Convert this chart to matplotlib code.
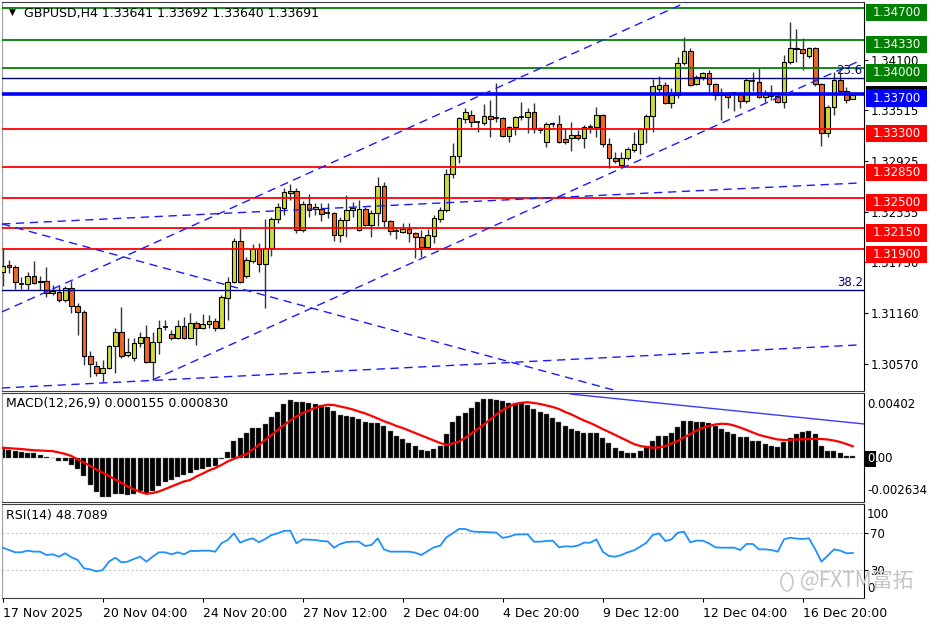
import matplotlib
matplotlib.use("Agg")
import matplotlib.pyplot as plt
import matplotlib.transforms as mtransforms
from matplotlib.patches import Rectangle, Ellipse
import numpy as np

# ---------------- data ----------------
opens = [1.31638, 1.31719, 1.31696, 1.31499, 1.31499, 1.31591, 1.31533, 1.31533, 1.31394, 1.31406,
         1.31313, 1.31452, 1.31243, 1.31174, 1.30663, 1.30547, 1.30466, 1.30524, 1.30779, 1.30942,
         1.30675, 1.30640, 1.30814, 1.30884, 1.30594, 1.30826, 1.31000, 1.30919, 1.30872, 1.31011,
         1.30872, 1.31046, 1.30988, 1.31035, 1.31069, 1.30988, 1.31336, 1.31522, 1.31997, 1.31591,
         1.31765, 1.31905, 1.31731, 1.31916, 1.32253, 1.32380, 1.32554, 1.32577, 1.32125, 1.32427,
         1.32369, 1.32369, 1.32322, 1.32322, 1.32067, 1.32241, 1.32357, 1.32125, 1.32369, 1.32183,
         1.32322, 1.32635, 1.32229, 1.32113, 1.32102, 1.32137, 1.32090, 1.32044, 1.31928, 1.32055,
         1.32253, 1.32357, 1.32775, 1.32983, 1.33413, 1.33459, 1.33378, 1.33366, 1.33447, 1.33424,
         1.33424, 1.33215, 1.33320, 1.33436, 1.33436, 1.33494, 1.33285, 1.33146, 1.33355, 1.33355,
         1.33181, 1.33192, 1.33227, 1.33192, 1.33320, 1.33320, 1.33459, 1.33123, 1.32960, 1.32879,
         1.32960, 1.33053, 1.33123, 1.33297, 1.33447, 1.33761, 1.33807, 1.33598, 1.33691, 1.34062,
         1.34201, 1.33819, 1.33900, 1.33946, 1.33819, 1.33691, 1.33714, 1.33714, 1.33714, 1.33621,
         1.33853, 1.33842, 1.33668, 1.33679, 1.33679, 1.33610, 1.34074, 1.34236, 1.34225, 1.34143,
         1.34236, 1.33819, 1.33250, 1.33552, 1.33865, 1.33737, 1.33641]
highs = [1.31916, 1.31777, 1.31719, 1.31580, 1.31638, 1.31765, 1.31591, 1.31696, 1.31487, 1.31475,
         1.31475, 1.31533, 1.31278, 1.31197, 1.30721, 1.30605, 1.30617, 1.30791, 1.30988, 1.31232,
         1.30872, 1.30872, 1.30942, 1.31023, 1.30942, 1.31081, 1.31081, 1.30965, 1.31081, 1.31116,
         1.31162, 1.31069, 1.31151, 1.31139, 1.31104, 1.31371, 1.31580, 1.32032, 1.32148, 1.31812,
         1.31963, 1.31974, 1.32253, 1.32276, 1.32438, 1.32612, 1.32659, 1.32612, 1.32461, 1.32543,
         1.32438, 1.32438, 1.32438, 1.32334, 1.32276, 1.32531, 1.32450, 1.32473, 1.32392, 1.32357,
         1.32740, 1.32682, 1.32241, 1.32160, 1.32206, 1.32206, 1.32102, 1.32125, 1.32137, 1.32299,
         1.32392, 1.32833, 1.33134, 1.33436, 1.33540, 1.33517, 1.33389, 1.33587, 1.33633, 1.33830,
         1.33436, 1.33331, 1.33447, 1.33610, 1.33540, 1.33598, 1.33320, 1.33378, 1.33378, 1.33459,
         1.33308, 1.33378, 1.33285, 1.33343, 1.33355, 1.33552, 1.33471, 1.33192, 1.33030, 1.33030,
         1.33088, 1.33262, 1.33308, 1.33471, 1.33877, 1.33911, 1.33842, 1.33772, 1.34132, 1.34364,
         1.34236, 1.33923, 1.33958, 1.33981, 1.33830, 1.33772, 1.33726, 1.33726, 1.33726, 1.33888,
         1.33958, 1.34004, 1.33749, 1.33807, 1.33726, 1.34155, 1.34538, 1.34457, 1.34352, 1.34248,
         1.34248, 1.33830, 1.33575, 1.33958, 1.33958, 1.33784, 1.33692]
lows = [1.31475, 1.31626, 1.31441, 1.31441, 1.31429, 1.31499, 1.31429, 1.31348, 1.31371, 1.31290,
        1.31290, 1.31162, 1.30907, 1.30559, 1.30420, 1.30431, 1.30362, 1.30513, 1.30466, 1.30640,
        1.30652, 1.30605, 1.30768, 1.30582, 1.30385, 1.30687, 1.30965, 1.30849, 1.30861, 1.30861,
        1.30861, 1.30791, 1.30977, 1.30988, 1.30953, 1.30977, 1.31081, 1.31510, 1.31510, 1.31568,
        1.31742, 1.31638, 1.31220, 1.31823, 1.32206, 1.32299, 1.32473, 1.32090, 1.32102, 1.32276,
        1.32299, 1.32229, 1.32264, 1.31997, 1.31986, 1.32044, 1.32276, 1.32113, 1.32171, 1.32044,
        1.32171, 1.32160, 1.32067, 1.32021, 1.32090, 1.31986, 1.31800, 1.31812, 1.31905, 1.31974,
        1.32218, 1.32334, 1.32728, 1.32902, 1.33366, 1.33320, 1.33262, 1.33343, 1.33204, 1.33378,
        1.33204, 1.33146, 1.33227, 1.33401, 1.33250, 1.33250, 1.33250, 1.33088, 1.33320, 1.33134,
        1.33123, 1.33041, 1.33169, 1.33076, 1.33250, 1.33204, 1.33088, 1.32844, 1.32902, 1.32856,
        1.32937, 1.33030, 1.33007, 1.33134, 1.33262, 1.33703, 1.33587, 1.33540, 1.33656, 1.34039,
        1.33795, 1.33807, 1.33865, 1.33726, 1.33633, 1.33401, 1.33540, 1.33505, 1.33540, 1.33598,
        1.33737, 1.33656, 1.33610, 1.33633, 1.33598, 1.33540, 1.34051, 1.34074, 1.33981, 1.34120,
        1.33795, 1.33099, 1.33204, 1.33459, 1.33714, 1.33598, 1.33640]
closes = [1.31707, 1.31696, 1.31522, 1.31499, 1.31591, 1.31510, 1.31522, 1.31394, 1.31417, 1.31313,
          1.31452, 1.31243, 1.31174, 1.30663, 1.30571, 1.30466, 1.30524, 1.30779, 1.30942, 1.30663,
          1.30710, 1.30814, 1.30884, 1.30594, 1.30826, 1.30988, 1.31000, 1.30872, 1.31011, 1.30872,
          1.31046, 1.30988, 1.31035, 1.31069, 1.30988, 1.31348, 1.31522, 1.31997, 1.31522, 1.31777,
          1.31905, 1.31731, 1.31916, 1.32253, 1.32392, 1.32566, 1.32577, 1.32125, 1.32427, 1.32357,
          1.32392, 1.32311, 1.32322, 1.32067, 1.32241, 1.32357, 1.32380, 1.32369, 1.32183, 1.32322,
          1.32635, 1.32229, 1.32113, 1.32113, 1.32137, 1.32090, 1.32044, 1.31928, 1.32067, 1.32264,
          1.32357, 1.32775, 1.32983, 1.33424, 1.33494, 1.33378, 1.33378, 1.33447, 1.33413, 1.33424,
          1.33215, 1.33320, 1.33436, 1.33436, 1.33494, 1.33297, 1.33285, 1.33355, 1.33355, 1.33146,
          1.33146, 1.33227, 1.33192, 1.33320, 1.33320, 1.33459, 1.33123, 1.32960, 1.32925, 1.32960,
          1.33065, 1.33123, 1.33297, 1.33447, 1.33795, 1.33807, 1.33598, 1.33691, 1.34062, 1.34201,
          1.33807, 1.33900, 1.33946, 1.33819, 1.33691, 1.33714, 1.33668, 1.33714, 1.33621, 1.33865,
          1.33853, 1.33668, 1.33703, 1.33679, 1.33610, 1.34074, 1.34236, 1.34225, 1.34178, 1.34236,
          1.33819, 1.33250, 1.33552, 1.33865, 1.33737, 1.33633, 1.33691]

# MACD(12,26,9), in units of 0.0001
macd_main = [6.6, 6.1, 5.0, 4.5, 3.9, 3.4, 2.7, 1.2, 0.5, -1.8,
             -1.8, -4.1, -7.0, -12.0, -17.7, -22.9, -26.3, -26.0, -24.4, -24.4,
             -24.9, -23.8, -22.2, -23.3, -22.2, -18.8, -16.1, -14.3, -12.4, -11.5,
             -9.7, -8.1, -7.0, -5.9, -4.8, -0.3, 4.3, 11.7, 14.1, 17.5,
             20.4, 20.8, 23.6, 28.0, 31.7, 36.7, 39.4, 38.5, 38.5, 37.8,
             37.3, 36.2, 34.8, 32.1, 29.2, 28.7, 28.3, 27.0, 24.6, 23.8,
             24.2, 22.4, 18.5, 15.1, 13.4, 10.7, 8.8, 6.1, 5.4, 6.6,
             8.8, 16.8, 24.6, 28.7, 31.0, 34.4, 38.5, 40.1, 40.2, 40.0,
             38.9, 37.8, 37.8, 37.8, 36.0, 33.3, 31.4, 29.9, 27.6, 24.6,
             21.9, 20.2, 18.5, 17.0, 17.0, 17.0, 14.1, 10.2, 7.3, 5.0,
             3.4, 3.4, 5.0, 8.4, 11.7, 15.1, 15.1, 17.5, 21.5, 25.8,
             25.3, 24.9, 24.9, 24.2, 21.9, 19.7, 18.1, 16.3, 14.5, 14.5,
             12.2, 11.7, 10.0, 8.8, 7.9, 11.1, 14.1, 16.8, 17.9, 19.0,
             16.3, 8.4, 5.4, 5.0, 3.9, 2.0, 1.55]
macd_signal = [7.3, 7.0, 6.7, 6.4, 6.0, 5.6, 5.4, 5.2, 5.0, 4.1,
               3.1, 1.7, -0.7, -2.7, -5.1, -7.5, -9.7, -11.9, -14.3, -16.5,
               -19.0, -21.0, -22.7, -24.0, -23.4, -22.4, -20.7, -19.0, -17.3, -15.6,
               -14.6, -12.2, -10.2, -8.1, -6.5, -4.4, -2.0, -0.3, 1.4, 3.1,
               6.1, 9.2, 12.6, 16.0, 19.4, 22.7, 25.8, 28.5, 30.9, 32.6,
               34.4, 35.6, 36.5, 36.3, 35.3, 34.4, 33.3, 31.9, 30.6, 28.9,
               27.2, 25.3, 23.8, 22.1, 20.7, 19.0, 17.3, 15.6, 13.9, 12.2,
               10.5, 9.2, 10.2, 11.5, 14.1, 17.0, 20.0, 23.1, 26.5, 29.9,
               32.9, 35.3, 37.0, 37.9, 38.2, 37.7, 37.0, 36.0, 35.0, 33.6,
               31.6, 29.9, 27.8, 25.8, 24.1, 22.1, 20.0, 18.0, 16.0, 13.9,
               11.9, 9.8, 8.5, 7.8, 7.3, 7.5, 8.5, 10.2, 11.9, 14.3,
               16.6, 19.0, 20.8, 22.1, 23.1, 23.6, 23.4, 22.4, 21.0, 19.4,
               17.7, 16.0, 14.9, 13.9, 12.9, 12.6, 12.6, 12.9, 13.0, 13.2,
               13.4, 13.2, 12.9, 12.2, 11.2, 9.8, 8.3]

rsi = [54.4, 51.9, 49.4, 49.4, 51.2, 50.1, 50.1, 46.5, 47.2, 44.7,
       48.3, 44.0, 41.1, 32.1, 31.0, 28.8, 30.3, 39.3, 43.6, 38.6,
       39.3, 42.2, 44.7, 39.3, 44.7, 49.4, 49.4, 47.2, 49.4, 47.2,
       50.8, 50.8, 51.2, 51.2, 50.1, 59.1, 62.7, 69.9, 59.8, 62.7,
       64.5, 60.2, 63.8, 68.1, 69.9, 72.5, 72.8, 59.1, 63.4, 63.1,
       62.7, 61.6, 61.2, 54.4, 58.4, 60.5, 60.9, 60.9, 56.2, 57.3,
       64.5, 52.6, 50.1, 50.1, 50.1, 50.1, 49.0, 46.5, 50.8, 54.8,
       56.6, 65.6, 69.9, 74.6, 74.6, 72.1, 71.4, 71.4, 71.0, 70.6,
       64.9, 66.3, 68.5, 68.8, 68.8, 60.9, 60.9, 61.6, 62.0, 54.8,
       55.9, 55.5, 56.6, 59.8, 59.8, 63.4, 50.1, 45.4, 44.7, 46.5,
       49.4, 51.5, 55.5, 59.8, 68.1, 69.9, 61.6, 63.4, 70.6, 71.7,
       60.2, 62.0, 62.0, 59.1, 54.8, 54.4, 54.4, 54.4, 51.9, 58.4,
       58.4, 52.6, 52.6, 51.9, 50.1, 63.4, 65.2, 64.2, 63.8, 64.5,
       52.6, 39.3, 45.8, 52.6, 51.2, 48.3, 48.7]

date_ticks = [0, 16, 32, 48, 64, 80, 96, 112, 128]
date_labels = ["17 Nov 2025", "20 Nov 04:00", "24 Nov 20:00", "27 Nov 12:00", "2 Dec 04:00",
               "4 Dec 20:00", "9 Dec 12:00", "12 Dec 04:00", "16 Dec 20:00"]
price_ticks = [1.34100, 1.33515, 1.32925, 1.32335, 1.31750, 1.31160, 1.30570]

green_levels = [1.34700, 1.34330, 1.34000]
red_levels = [1.33300, 1.32850, 1.32500, 1.32150, 1.31900]
pivot_level = 1.33700
last_price = 1.33691
fib_levels = [1.33884, 1.31428]
fib_names = ["23.6", "38.2"]

# hand drawn trendlines: (bar, price) -> (bar, price)
trend_lines = [((-0.11, 1.31174), (110.0, 1.34787)),
               ((24.0, 1.30385), (136.85, 1.34079)),
               ((-0.11, 1.30291), (136.85, 1.30790)),
               ((-0.11, 1.32194), (136.85, 1.32669)),
               ((-0.11, 1.32194), (98.3, 1.30256))]
macd_trend = ((90.8, 0.00438), (137.9, 0.00234))

# ---------------- figure ----------------
W, H = 936, 624
fig = plt.figure(figsize=(W / 100, H / 100), dpi=100)
fig.patch.set_facecolor("white")


def box(l, t, r, b):
    return [l / W, 1 - b / H, (r - l) / W, (b - t) / H]


ax = fig.add_axes(box(2, 1.7, 864, 391))
axm = fig.add_axes(box(2, 393.3, 864, 502.3))
axr = fig.add_axes(box(2, 504, 864, 598.3))

for a in (ax, axm, axr):
    a.set_xlim(-0.11, 137.8)
    for s in a.spines.values():
        s.set_color("#404040")
        s.set_linewidth(0.8)
    a.spines["left"].set_color("#a0a0a0")
    a.spines["right"].set_color("black")
    a.yaxis.tick_right()
    a.tick_params(axis="y", length=3, width=0.8, pad=1.5, labelsize=8.5, colors="black")
    a.tick_params(axis="x", bottom=False, labelbottom=False)

ax.set_ylim(1.30256, 1.34773)
axm.set_ylim(-0.002974, 0.004427)
axr.set_ylim(-0.3, 101.6)

x = np.arange(len(opens))
o = np.array(opens)
h = np.array(highs)
l = np.array(lows)
c = np.array(closes)
up = c > o
dn = c < o
fl = c == o

bull_col = "#cddc39"
bear_col = "#f26522"
ax.vlines(x, l, h, color="#333333", lw=1, zorder=2)
ax.bar(x[up], (c - o)[up], bottom=o[up], width=0.75, color=bull_col, edgecolor="black", lw=0.8, zorder=3)
ax.bar(x[dn], (o - c)[dn], bottom=c[dn], width=0.75, color=bear_col, edgecolor="black", lw=0.8, zorder=3)
ax.hlines(o[fl], x[fl] - 0.4, x[fl] + 0.4, color="black", lw=1.2, zorder=3)

for lv in green_levels:
    ax.axhline(lv, color="#008000", lw=1.3, zorder=4)
for lv in red_levels:
    ax.axhline(lv, color="#ff0000", lw=1.3, zorder=4)
ax.axhline(pivot_level, color="#0000ff", lw=2.6, zorder=4)
for lv in fib_levels:
    ax.axhline(lv, color="#000080", lw=1, zorder=4)

for (x0, y0), (x1, y1) in trend_lines:
    ax.plot([x0, x1], [y0, y1], color="#1a1aff", lw=1, dashes=(6, 4), zorder=4)

up_px = mtransforms.offset_copy(ax.transData, fig=fig, y=1, units="dots")
for lv, name in zip(fib_levels, fib_names):
    ax.text(137.6, lv, name, transform=up_px, ha="right", va="bottom",
            color="#000080", fontsize=8.5, zorder=5)

ax.set_yticks(price_ticks)
ax.set_yticklabels(["%.5f" % p for p in price_ticks])


def price_label(a, price, text, fc, shift_px):
    y0, y1 = a.get_ylim()
    upp = (y1 - y0) / (a.get_position().height * H)
    trans = mtransforms.blended_transform_factory(a.transAxes, a.transData)
    xl = (866 - 2) / 862
    xw = 61 / 862
    yc = price - shift_px * upp
    a.add_patch(Rectangle((xl, yc - 8.75 * upp), xw, 17.5 * upp, transform=trans,
                          facecolor=fc, edgecolor="none", clip_on=False, zorder=5))
    if text:
        a.text(xl + xw / 2, yc, text, transform=trans, ha="center", va="center",
               color="white", fontsize=8.5, zorder=6, clip_on=False)


for lv in green_levels:
    price_label(ax, lv, "%.5f" % lv, "#008000", 4.5)
price_label(ax, last_price, "", "black", 0)
price_label(ax, pivot_level, "%.5f" % pivot_level, "#0000ff", 4)
for lv in red_levels:
    price_label(ax, lv, "%.5f" % lv, "#ff0000", 5)

# header
fig.text(12 / W, 1 - 12 / H, "\u25bc", fontsize=6.5, ha="center", va="center")
fig.text(24 / W, 1 - 13 / H, "GBPUSD,H4 1.33641 1.33692 1.33640 1.33691", fontsize=9, va="center")

# MACD panel
axm.bar(x, np.array(macd_main) * 1e-4, width=0.8, color="black", edgecolor="#707070", lw=0.3, zorder=2)
axm.plot(x, np.array(macd_signal) * 1e-4, color="#ff0000", lw=1.6, zorder=3)
(mx0, my0), (mx1, my1) = macd_trend
axm.plot([mx0, mx1], [my0, my1], color="#3a3aff", lw=1, zorder=3)
axm.set_yticks([])
fig.text(6 / W, 1 - 404 / H, "MACD(12,26,9) 0.000155 0.000830", fontsize=9, va="center")
fig.text(867 / W, 1 - 404 / H, "0.00402", fontsize=8.5, va="center")
fig.text(867 / W, 1 - 491 / H, "-0.002634", fontsize=8.5, va="center")
fig.text(875 / W, 1 - 459 / H, ".00", fontsize=8.5, va="center")
fig.text(870.5 / W, 1 - 459 / H, "0", fontsize=8.5, va="center", ha="center", color="white",
         bbox=dict(boxstyle="square,pad=0.12", fc="black", ec="none"))

# RSI panel
axr.plot(x, rsi, color="#1e90ff", lw=1.3, zorder=3)
for lv in (70, 30):
    axr.axhline(lv, color="#c8c8c8", lw=0.8, ls=(0, (2, 2)), zorder=1)
axr.set_yticks([70, 30])
axr.set_yticklabels(["70", "30"])
fig.text(867 / W, 1 - 514 / H, "100", fontsize=8.5, va="center")
fig.text(867 / W, 1 - 589 / H, "0", fontsize=8.5, va="center")
fig.text(6 / W, 1 - 516 / H, "RSI(14) 48.7089", fontsize=9, va="center")

axr.tick_params(axis="x", bottom=True, labelbottom=True, length=3, width=0.8, pad=3, labelsize=9)
axr.set_xticks(date_ticks)
axr.set_xticklabels(date_labels, ha="left")

# watermark
fig.patches.append(Ellipse((787 / W, 1 - 582 / H), 12 / W, 18 / H, transform=fig.transFigure,
                           facecolor="none", edgecolor="#c8c8c8", lw=1.2))
fig.text(800 / W, 1 - 581 / H, "@FXTM富拓", fontsize=15, color="#c4c4c4", va="center",
         family=["Noto Sans CJK SC", "DejaVu Sans"])

fig.savefig("out.png", dpi=100)
